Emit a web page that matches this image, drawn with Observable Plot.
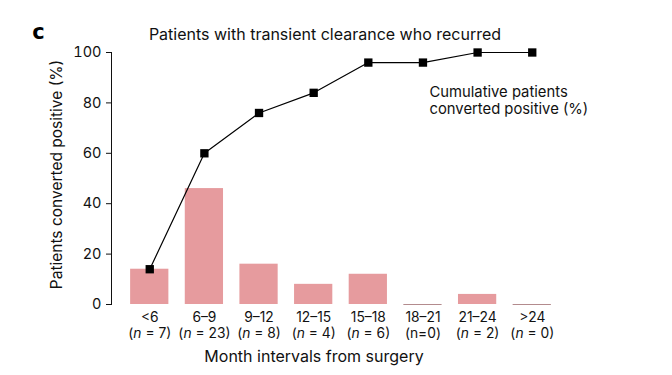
<!DOCTYPE html>
<html>
<head>
<meta charset="utf-8">
<script src="https://cdn.jsdelivr.net/npm/d3@7"></script>
<script src="https://cdn.jsdelivr.net/npm/@observablehq/plot@0.6"></script>
<style>
  html, body { margin: 0; padding: 0; background: #fff; }
  #chart svg { display: block; font-family: Inter, sans-serif; }
</style>
</head>
<body>
<div id="chart"></div>
<script>
const categories = ["<6", "6–9", "9–12", "12–15", "15–18", "18–21", "21–24", ">24"];
const nLabels = ["(n = 7)", "(n = 23)", "(n = 8)", "(n = 4)", "(n = 6)", "(n=0)", "(n = 2)", "(n = 0)"];
const percentConverted = [14, 46, 16, 8, 12, 0, 4, 0];
const cumulativePercent = [14, 60, 76, 84, 96, 96, 100, 100];
const yTicks = [0, 20, 40, 60, 80, 100];

const rows = categories.map((c, i) => ({cat: c, n: nLabels[i], pct: percentConverted[i], cum: cumulativePercent[i]}));
const nByCat = new Map(rows.map(d => [d.cat, d.n]));

const chart = Plot.plot({
  width: 672,
  height: 375,
  marginLeft: 111,
  marginRight: 102,
  marginTop: 52,
  marginBottom: 71,
  style: {fontFamily: "Inter, sans-serif", fontSize: "14px", color: "#111"},
  x: {domain: categories, paddingInner: 0.3, paddingOuter: 0.35, round: false, label: null},
  y: {domain: [0, 100], label: null},
  marks: [
    Plot.barY(rows, {x: "cat", y: "pct", fill: "#e69b9e"}),
    Plot.tickY(rows.filter(d => d.pct === 0), {x: "cat", y: "pct", stroke: "#b38b8d", strokeWidth: 1.2}),
    Plot.frame({anchor: "left", stroke: "#111", strokeWidth: 1}),
    Plot.axisY({ticks: yTicks, tickSize: 5, tickPadding: 5, fontSize: 14.5, label: null, stroke: "#111"}),
    Plot.axisX({tickSize: 0, tickPadding: 6, fontSize: 13.8, lineHeight: 1.16, label: null,
      tickFormat: d => `${d}\n${nByCat.get(d)}`}),
    Plot.line(rows, {x: "cat", y: "cum", stroke: "#000", strokeWidth: 1.2}),
    Plot.dot(rows, {x: "cat", y: "cum", symbol: "square", r: 4.7, fill: "#000", stroke: "none"}),
    Plot.text(["Cumulative patients\nconverted positive (%)"], {frameAnchor: "top-left", dx: 318, dy: 48, textAnchor: "start", lineAnchor: "middle", lineHeight: 1.15, fontSize: 14.8, fill: "#111"}),
    Plot.text(["Patients with transient clearance who recurred"], {frameAnchor: "top", dx: -16, dy: -18, lineAnchor: "middle", fontSize: 16, fill: "#111"}),
    Plot.text(["c"], {frameAnchor: "top-left", dx: -73, dy: -20, lineAnchor: "middle", textAnchor: "middle", fontSize: 21, fontWeight: "bold", fontFamily: "DejaVu Sans", fill: "#000"}),
    Plot.text(["Patients converted positive (%)"], {frameAnchor: "left", dx: -54, dy: -4, rotate: -90, lineAnchor: "middle", textAnchor: "middle", fontSize: 15.5, fill: "#111"}),
    Plot.text(["Month intervals from surgery"], {frameAnchor: "bottom", dx: -27, dy: 52, lineAnchor: "middle", fontSize: 16, fill: "#111"})
  ]
});

document.getElementById("chart").appendChild(chart);

// italicize the "n" in sample-size tick labels
chart.querySelectorAll('g[aria-label="x-axis tick label"] tspan').forEach(ts => {
  const t = ts.textContent;
  const m = t.match(/^\(n( = .*)$/);
  if (m) {
    ts.textContent = "(";
    const it = document.createElementNS("http://www.w3.org/2000/svg", "tspan");
    it.setAttribute("font-style", "italic");
    it.textContent = "n";
    ts.appendChild(it);
    ts.appendChild(document.createTextNode(m[1]));
  }
});
</script>
</body>
</html>
